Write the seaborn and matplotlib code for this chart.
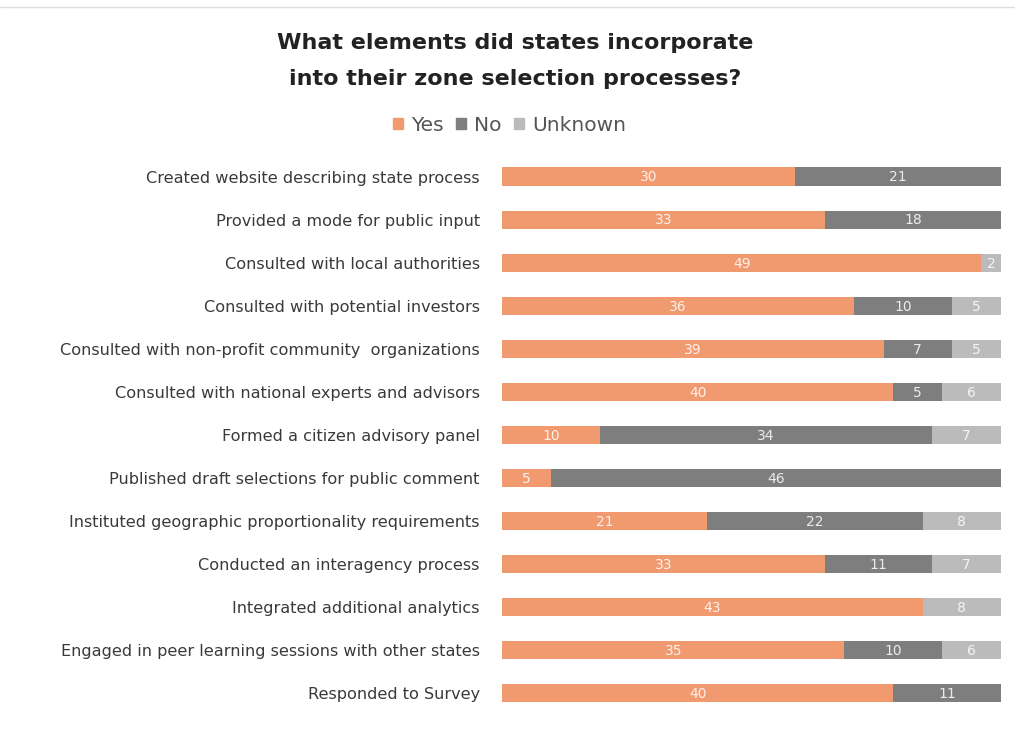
import matplotlib
matplotlib.use("Agg")
import matplotlib.pyplot as plt
import seaborn as sns
import numpy as np
import pandas as pd
from matplotlib.patches import Patch

categories = [
    "Created website describing state process",
    "Provided a mode for public input",
    "Consulted with local authorities",
    "Consulted with potential investors",
    "Consulted with non-profit community  organizations",
    "Consulted with national experts and advisors",
    "Formed a citizen advisory panel",
    "Published draft selections for public comment",
    "Instituted geographic proportionality requirements",
    "Conducted an interagency process",
    "Integrated additional analytics",
    "Engaged in peer learning sessions with other states",
    "Responded to Survey",
]
yes = [30, 33, 49, 36, 39, 40, 10, 5, 21, 33, 43, 35, 40]
no = [21, 18, 0, 10, 7, 5, 34, 46, 22, 11, 0, 10, 11]
unknown = [0, 0, 2, 5, 5, 6, 7, 0, 8, 7, 8, 6, 0]
series_names = ["Yes", "No", "Unknown"]

c_yes = "#F19A70"
c_no = "#7E7E7E"
c_unk = "#BBBBBB"

sns.set_theme(style="white")
plt.rcParams["font.family"] = ["DejaVu Sans"]

df = pd.DataFrame({"cat": categories, "yes": yes, "no": no, "unknown": unknown})
df["yes_no"] = df["yes"] + df["no"]
df["total"] = df["yes_no"] + df["unknown"]

fig = plt.figure(figsize=(10.15, 7.31), dpi=100)
ax = fig.add_axes([0.4946, 0.022, 0.4915, 0.766])

bw = 0.42
kw = dict(saturation=1, width=bw, ax=ax, orient="h", linewidth=0)
sns.barplot(data=df, y="cat", x="total", color=c_unk, **kw)
sns.barplot(data=df, y="cat", x="yes_no", color=c_no, **kw)
sns.barplot(data=df, y="cat", x="yes", color=c_yes, **kw)

for i, row in df.iterrows():
    segs = [(0, row["yes"]), (row["yes"], row["no"]), (row["yes_no"], row["unknown"])]
    for start, val in segs:
        if val > 0:
            ax.text(start + val / 2, i + 0.02, f"{int(val)}", ha="center", va="center",
                    color="white", fontsize=10, alpha=0.85)

ax.set_xlim(0, 51)
ax.set_ylim(len(categories) - 0.5, -0.5)
ax.set_xlabel("")
ax.set_ylabel("")
ax.set_xticks([])
ax.tick_params(axis="y", length=0, pad=16, labelsize=11.6, labelcolor="#3a3a3a")
for s in ax.spines.values():
    s.set_visible(False)

fig.text(0.508, 0.916, "What elements did states incorporate\ninto their zone selection processes?",
         ha="center", va="center", fontsize=16, fontweight="bold", color="#222222",
         linespacing=2.0)

handles = [Patch(color=c_yes), Patch(color=c_no), Patch(color=c_unk)]
fig.legend(handles, series_names, loc="center", bbox_to_anchor=(0.502, 0.829), ncol=3,
           frameon=False, fontsize=14.5, handlelength=0.5, handleheight=0.5,
           handletextpad=0.4, columnspacing=0.6, labelcolor="#555555")

fig.add_artist(plt.Line2D([0.0, 1.0], [0.99, 0.99], color="#DDDDDD", lw=1))

fig.savefig("out.png", dpi=100)
